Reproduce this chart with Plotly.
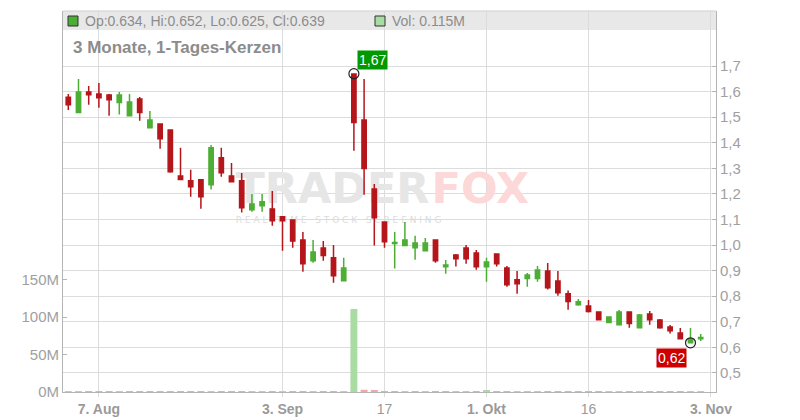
import plotly.graph_objects as go

# ---------------- data ----------------
idx = list(range(63))
opens = [1.578, 1.518, 1.598, 1.591, 1.587, 1.557, 1.506, 1.571, 1.459, 1.473,
         1.450, 1.270, 1.251, 1.255, 1.236, 1.341, 1.270, 1.251, 1.138, 1.154,
         1.141, 1.111, 1.098, 1.020, 0.939, 0.989, 0.950, 0.861, 1.669, 1.489,
         1.219, 1.090, 1.006, 0.998, 0.990, 0.978, 1.020, 0.915, 0.961, 0.989,
         0.969, 0.915, 0.965, 0.910, 0.864, 0.869, 0.869, 0.899, 0.860, 0.810,
         0.767, 0.762, 0.738, 0.697, 0.689, 0.738, 0.677, 0.731, 0.707, 0.680,
         0.656, 0.618, 0.634]
highs = [1.591, 1.649, 1.622, 1.634, 1.591, 1.598, 1.591, 1.579, 1.524, 1.473,
         1.450, 1.380, 1.294, 1.258, 1.391, 1.380, 1.321, 1.282, 1.200, 1.200,
         1.211, 1.111, 1.098, 1.051, 1.020, 1.016, 1.000, 0.950, 1.670, 1.649,
         1.239, 1.090, 1.051, 1.090, 1.036, 1.028, 1.020, 0.942, 0.965, 1.000,
         0.981, 0.950, 0.965, 0.918, 0.899, 0.891, 0.918, 0.930, 0.899, 0.822,
         0.789, 0.785, 0.738, 0.719, 0.746, 0.738, 0.731, 0.742, 0.711, 0.688,
         0.676, 0.676, 0.652]
lows = [1.528, 1.518, 1.549, 1.537, 1.506, 1.510, 1.506, 1.486, 1.459, 1.377,
        1.283, 1.256, 1.189, 1.142, 1.217, 1.267, 1.248, 1.127, 1.130, 1.130,
        1.076, 0.978, 0.990, 0.896, 0.931, 0.939, 0.853, 0.861, 1.369, 1.197,
        0.998, 0.990, 0.908, 0.998, 0.943, 0.978, 0.931, 0.888, 0.916, 0.927,
        0.904, 0.857, 0.916, 0.837, 0.810, 0.837, 0.857, 0.826, 0.802, 0.747,
        0.763, 0.736, 0.708, 0.697, 0.689, 0.677, 0.677, 0.689, 0.673, 0.654,
        0.634, 0.618, 0.625]
closes = [1.549, 1.598, 1.588, 1.576, 1.568, 1.587, 1.559, 1.518, 1.489, 1.416,
          1.287, 1.256, 1.228, 1.189, 1.380, 1.283, 1.248, 1.146, 1.161, 1.169,
          1.095, 1.095, 1.016, 0.927, 0.973, 0.959, 0.880, 0.910, 1.479, 1.299,
          1.107, 1.013, 1.010, 1.020, 1.008, 1.008, 0.939, 0.922, 0.947, 0.947,
          0.915, 0.934, 0.927, 0.845, 0.849, 0.883, 0.903, 0.833, 0.814, 0.779,
          0.778, 0.740, 0.708, 0.719, 0.738, 0.693, 0.727, 0.708, 0.677, 0.665,
          0.634, 0.634, 0.639]
volumes_m = [0.12, 0.15, 0.10, 0.08, 0.09, 0.07, 0.12, 0.10, 0.08, 0.14,
             0.20, 0.15, 0.12, 0.14, 0.18, 0.15, 0.10, 0.16, 0.08, 0.07,
             0.12, 0.10, 0.14, 0.18, 0.12, 0.09, 0.16, 0.15, 110.7, 3.0,
             1.8, 0.25, 0.20, 0.15, 0.12, 0.10, 0.14, 0.12, 0.08, 0.10,
             0.12, 1.4, 0.10, 0.15, 0.14, 0.08, 0.10, 0.15, 0.14, 0.12,
             0.06, 0.08, 0.07, 0.06, 0.08, 0.07, 0.06, 0.06, 0.08, 0.06,
             0.08, 0.10, 0.115]
tick_idx = [3, 21, 31, 41, 51, 63]
tick_labels = ["<b>7. Aug</b>", "<b>3. Sep</b>", "17", "<b>1. Okt</b>", "16", "<b>3. Nov</b>"]
price_ticks = [0.5, 0.6, 0.7, 0.8, 0.9, 1.0, 1.1, 1.2, 1.3, 1.4, 1.5, 1.6, 1.7]
vol_ticks_m = [0, 50, 100, 150]

# ---------------- styles ----------------
RED = "#b5161b"
GREEN = "#4cae34"
VOL_UP = "#a9dca3"
VOL_DN = "#f0a7b0"
GRID = "#dcdcdc"
AXIS = "#b4b4b4"
TXT = "#a0a0a0"

W, H = 800, 420
ML, MR, MT, MB = 63, 84, 11, 28
PW, PH = W - ML - MR, H - MT - MB

def px_x(p):
    return (p - ML) / PW

def px_y(p):
    return (H - MB - p) / PH

vol_colors = [VOL_UP if i == 0 or closes[i] >= closes[i - 1] else VOL_DN for i in idx]
volumes = [v * 1e6 for v in volumes_m]

fig = go.Figure()

fig.add_trace(go.Bar(x=idx, y=volumes, marker=dict(color=vol_colors, line=dict(width=0)),
                     width=0.68, yaxis="y", hoverinfo="skip"))

# watermark (drawn beneath the candles on the base axis)
fig.add_trace(go.Scatter(x=[25.9, 40.4], y=[266e6, 266e6], mode="text",
                         text=["TRADER", "FOX"],
                         textfont=dict(family="DejaVu Sans", size=43, weight="bold",
                                       color=["#e6e6e6", "#fcd8d8"]),
                         yaxis="y", hoverinfo="skip"))
fig.add_trace(go.Scatter(x=[26.5], y=[229e6], mode="text",
                         text=["R E A L - T I M E   S T O C K   S C R E E N I N G"],
                         textfont=dict(family="DejaVu Sans", size=9, color="#dcdcdc"),
                         yaxis="y", hoverinfo="skip"))

fig.add_trace(go.Candlestick(
    x=idx, open=opens, high=highs, low=lows, close=closes, yaxis="y2",
    increasing=dict(line=dict(color=GREEN, width=1.5), fillcolor=GREEN),
    decreasing=dict(line=dict(color=RED, width=1.5), fillcolor=RED),
    whiskerwidth=0, hoverinfo="skip"))

imax = max(idx, key=lambda i: highs[i])
imin = min(idx, key=lambda i: lows[i])
fig.add_trace(go.Scatter(x=[imax, imin], y=[highs[imax], lows[imin]], mode="markers",
                         marker=dict(symbol="circle-open", size=10, color="#222",
                                     line=dict(width=1.2)),
                         yaxis="y2", hoverinfo="skip"))

fmt = lambda v: f"{v:.2f}".replace(".", ",")

annotations = [
    dict(x=imax, y=highs[imax], xref="x", yref="y2", text=fmt(highs[imax]),
         showarrow=False, xanchor="left", yanchor="bottom", xshift=3, yshift=4,
         bgcolor="#009a00", font=dict(family="Liberation Sans, Arial", size=14, color="white"),
         borderpad=1),
    dict(x=imin, y=lows[imin], xref="x", yref="y2", text=fmt(lows[imin]),
         showarrow=False, xanchor="right", yanchor="top", xshift=-4, yshift=-5,
         bgcolor="#cc0000", font=dict(family="Liberation Sans, Arial", size=14, color="white"),
         borderpad=1),
    dict(x=px_x(83), y=px_y(21), xref="paper", yref="paper", xanchor="left", yanchor="middle",
         text=f"Op:{opens[-1]:.3f}, Hi:{highs[-1]:.3f}, Lo:{lows[-1]:.3f}, Cl:{closes[-1]:.3f}",
         showarrow=False, font=dict(family="Liberation Sans, Arial", size=14, color="#8c8c8c")),
    dict(x=px_x(390), y=px_y(21), xref="paper", yref="paper", xanchor="left", yanchor="middle",
         text=f"Vol: {volumes_m[-1]:.3f}M", showarrow=False,
         font=dict(family="Liberation Sans, Arial", size=14, color="#8c8c8c")),
    dict(x=px_x(71), y=px_y(47), xref="paper", yref="paper", xanchor="left", yanchor="middle",
         text="<b>3 Monate, 1-Tages-Kerzen</b>", showarrow=False,
         font=dict(family="Liberation Sans, Arial", size=17, color="#8c8c8c")),
]

shapes = [
    dict(type="rect", xref="paper", yref="paper", x0=0, x1=1, y0=px_y(30), y1=1,
         fillcolor="#e8e8e8", line=dict(width=0), layer="below"),
    dict(type="line", xref="paper", yref="paper", x0=0, x1=1, y0=1, y1=1,
         line=dict(color="#cfcfcf", width=1)),
    dict(type="rect", xref="paper", yref="paper", x0=px_x(68), x1=px_x(78),
         y0=px_y(26), y1=px_y(16), fillcolor=GREEN, line=dict(color="#333", width=1)),
    dict(type="rect", xref="paper", yref="paper", x0=px_x(375), x1=px_x(385),
         y0=px_y(26), y1=px_y(16), fillcolor=VOL_UP, line=dict(color="#333", width=1)),
]

fig.update_layout(
    width=W, height=H,
    margin=dict(l=ML, r=MR, t=MT, b=MB, pad=0, autoexpand=False),
    paper_bgcolor="white", plot_bgcolor="white",
    showlegend=False, bargap=0.32,
    boxgap=0.4,
    font=dict(family="Liberation Sans, Arial"),
    xaxis=dict(range=[-0.52, 63.5], tickvals=tick_idx, ticktext=tick_labels,
               automargin=False,
               showgrid=True, gridcolor=GRID, gridwidth=1, zeroline=False,
               showline=True, linecolor=AXIS, linewidth=1,
               ticks="outside", ticklen=4, tickcolor=GRID,
               tickfont=dict(size=14, color="#9a9a9a"),
               rangeslider=dict(visible=False), fixedrange=True),
    yaxis=dict(range=[0, 508e6], tickvals=[v * 1e6 for v in vol_ticks_m],
               ticktext=[f"{v}M" for v in vol_ticks_m], automargin=False,
               showgrid=False, zeroline=False, showline=True, linecolor=AXIS,
               ticks="inside", ticklen=4, tickcolor=AXIS,
               tickfont=dict(size=15, color=TXT), side="left"),
    yaxis2=dict(range=[0.4257, 1.915], tickvals=price_ticks,
                ticktext=[f"{v:.1f}".replace(".", ",") for v in price_ticks],
                overlaying="y", side="right", automargin=False,
                showgrid=True, gridcolor=GRID, gridwidth=1, zeroline=False,
                showline=True, linecolor=AXIS, ticks="inside", ticklen=4, tickcolor=AXIS,
                tickfont=dict(size=15, color=TXT)),
    annotations=annotations,
    shapes=shapes,
)

fig.write_html("out.html", config={"displayModeBar": False},
               post_script="document.body.style.margin='0px';document.body.style.overflow='hidden';")
